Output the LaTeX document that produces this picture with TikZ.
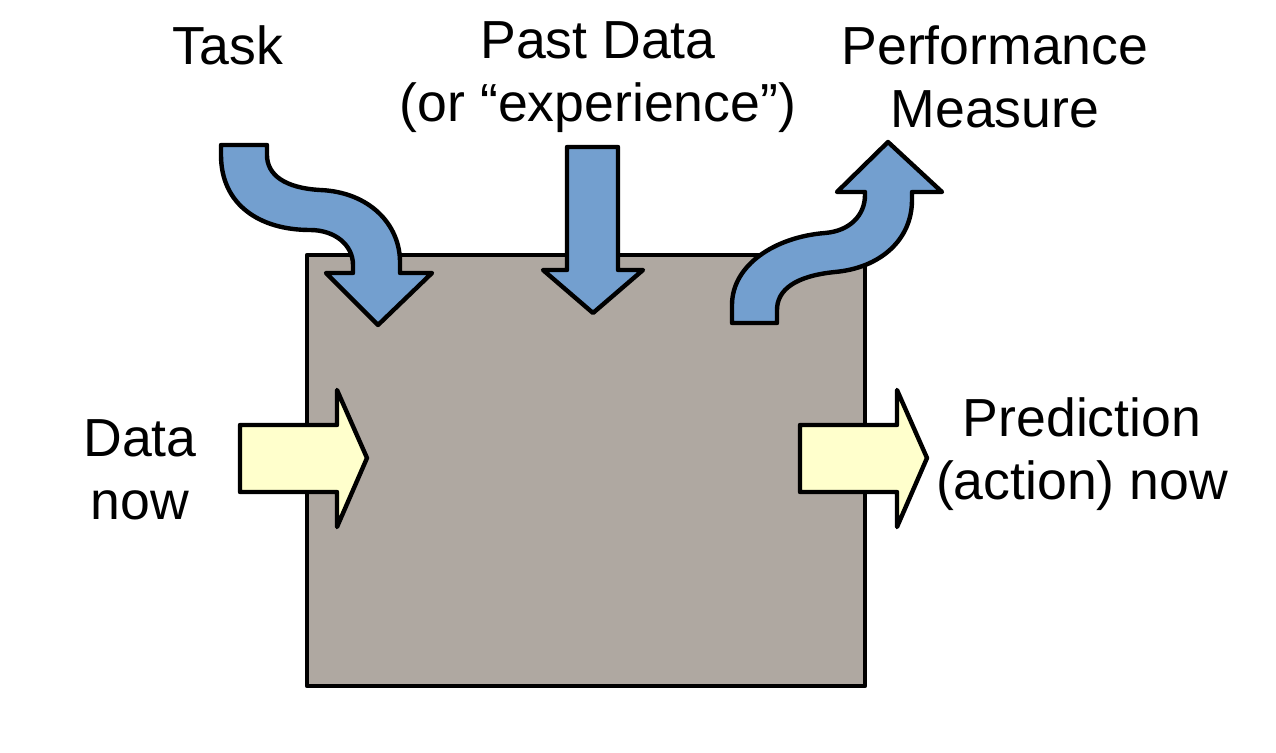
\documentclass[tikz,border=0pt]{standalone}
\usepackage{fontspec}
\setmainfont{Liberation Sans}
\usetikzlibrary{positioning}

\definecolor{boxgrey}{RGB}{175,168,161}
\definecolor{flowblue}{RGB}{115,159,207}
\definecolor{ioyellow}{RGB}{255,255,204}

\begin{document}
\begin{tikzpicture}[x=0.5pt,y=-0.5pt,
    shape outline/.style={draw=black,line width=2.2pt,line join=round},
    label text/.style={align=center,inner sep=0pt,font=\fontsize{26.8}{31.5}\selectfont}]
        \useasboundingbox (0,0) rectangle (1276,753);

        % the learner
        \draw[shape outline,fill=boxgrey] (307,255) rectangle (865,686);

        % task
        \draw[shape outline,fill=flowblue] (221,145) -- (221,155)
            .. controls (221,205) and (260,230) .. (310,230)
            .. controls (335,230) and (353,245) .. (353,265)
            -- (353,273) -- (326,273) -- (378,325) -- (432,273) -- (400,273) -- (400,262)
            .. controls (400,225) and (370,192) .. (320,190)
            .. controls (285,188) and (267,175) .. (267,155) -- (267,145) -- cycle;

        % past data
        \draw[shape outline,fill=flowblue] (567,147) -- (618,147) -- (618,270) -- (643,270)
            -- (593,313) -- (543,270) -- (567,270) -- cycle;

        % performance measure
        \draw[shape outline,fill=flowblue] (732,323) -- (732,305)
            .. controls (732,265) and (775,237) .. (825,233)
            .. controls (850,231) and (865,215) .. (865,195)
            -- (865,192) -- (837,192) -- (888,142) -- (942,192) -- (912,192) -- (912,200)
            .. controls (912,240) and (880,268) .. (835,272)
            .. controls (795,276) and (777,290) .. (777,310) -- (777,323) -- cycle;

        % data in, prediction out
        \draw[shape outline,fill=ioyellow] (240,425) -- (337,425) -- (337,390) -- (367,458)
            -- (337,527) -- (337,492) -- (240,492) -- cycle;
        \draw[shape outline,fill=ioyellow] (800,425) -- (897,425) -- (897,390) -- (927,458)
            -- (897,527) -- (897,492) -- (800,492) -- cycle;

        \node[label text] (task) at (228,45) {Task};
        \node[label text] (past) at (598,77) {Past Data\\(or “experience”)};
        \node[label text] (perf) at (995,77) {Performance\\Measure};
        \node[label text] (datanow) at (140,470) {Data\\now};
        \node[label text] (pred) at (1082,454) {Prediction\\(action) now};
\end{tikzpicture}
\end{document}
